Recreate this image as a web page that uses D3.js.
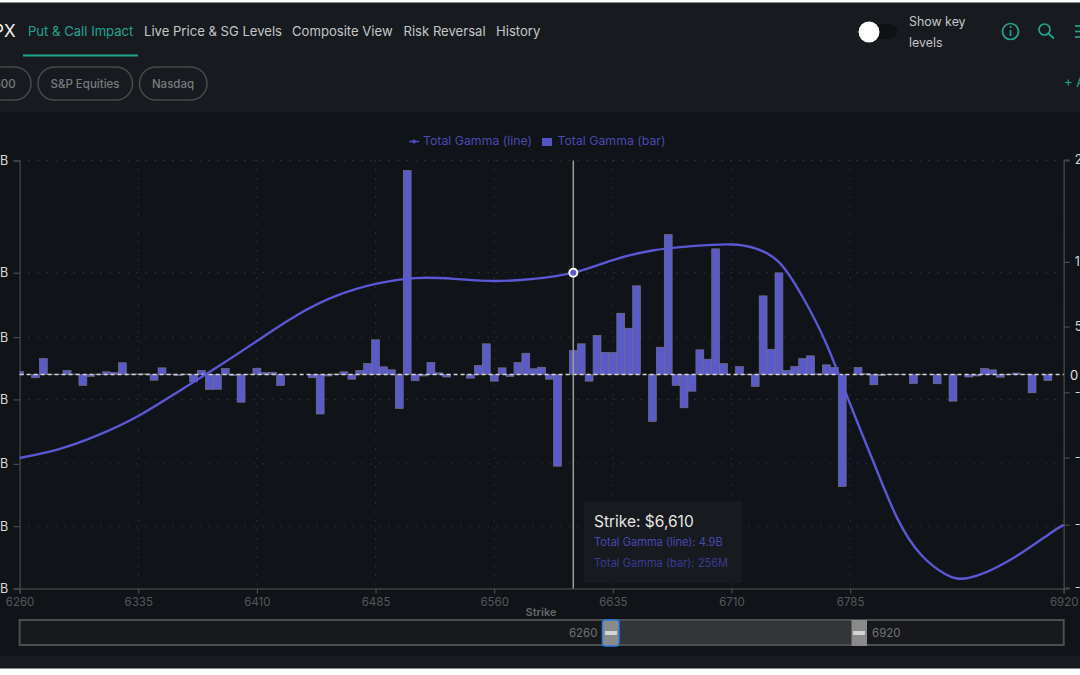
<!DOCTYPE html>
<html>
<head>
<meta charset="utf-8">
<script src="https://cdn.jsdelivr.net/npm/d3@7"></script>
<style>
    html, body { margin: 0; padding: 0; background: #fff; overflow: hidden; }
    svg { display: block; font-family: Inter, "Noto Sans", sans-serif; }
</style>
</head>
<body>
<svg id="chart" width="1080" height="675"></svg>
<script>
// Strike categories, one bar every 5 points
const strikeStart = 6260;
const strikeStep = 5;

// Total Gamma (bar), millions, one per strike from 6260
const barValues = [
    32, 0, -35, 170, 3, 3, 43, 5, -117, -21, 5, 29, 21, 125, 5, 7, 7, -61, 71, 3,
    -11, 5, -78, 43, -160, -157, 64, -11, -295, 3, 67, 21, 24, -117, 3, 0, 0, -35, -421, -16,
    5, 29, -50, 43, 117, 370, 82, 50, -362, 2173, -67, -16, 128, 18, -27, 0, 0, -39, 96, 327,
    -71, 71, -21, 128, 227, 61, 78, -50, -977, 0, 256, 327, -71, 415, 237, 234, 653, 493, 945, 0,
    -501, 291, 1491, -117, -355, -178, 263, 163, 1339, 117, 0, 85, 3, -128, 838, 269, 1083, 43, 85, 170,
    199, 7, 103, 75, -1193, 0, 75, 11, -110, -11, 3, 3, 0, -96, 3, 0, -99, 0, -284, 0,
    -27, -16, 64, 50, -29, 3, 16, 3, -195, 0, -64, 0, 0
];

// Total Gamma (line), billions, read at these strikes
const lineStrikes = [6260, 6285, 6310, 6335, 6360, 6385, 6410, 6435, 6460, 6485, 6510, 6535, 6560, 6585, 6610,
    6635, 6660, 6685, 6710, 6725, 6740, 6755, 6770, 6785, 6800, 6815, 6830, 6845, 6860, 6885, 6910, 6920];
const lineValues = [-4.02, -3.59, -2.91, -2.0, -0.84, 0.36, 1.61, 2.84, 3.78, 4.36, 4.64, 4.6, 4.5, 4.6, 4.9,
    5.51, 5.97, 6.18, 6.26, 6.07, 5.41, 3.73, 1.47, -1.42, -4.26, -6.95, -8.69, -9.6, -9.79, -8.98, -7.72, -7.24];

// Axis ticks
const xTicks = [6260, 6335, 6410, 6485, 6560, 6635, 6710, 6785, 6920];
const leftTicks = [-10.3, -7.3, -4.3, -1.2, 1.8, 4.9, 10.3];
const rightTicks = [-2270, -1600, -884, -190, 511, 1200, 2290];
const tabs = ['Put & Call Impact', 'Live Price & SG Levels', 'Composite View', 'Risk Reversal', 'History'];
const tabX = [28, 144, 292, 403.5, 496];
const hoverStrike = 6610;

const teal = '#1fa58f';
const lineColor = '#5a58d6';
const barColor = '#5a5ac8';

const svg = d3.select('#chart');

// Panels
svg.append('rect').attr('x', 0).attr('y', 2.5).attr('width', 1080).attr('height', 109.5).attr('fill', '#171b1f');
svg.append('rect').attr('x', 0).attr('y', 112).attr('width', 1080).attr('height', 544).attr('fill', '#101317');
svg.append('rect').attr('x', 0).attr('y', 656).attr('width', 1080).attr('height', 12.5).attr('fill', '#171b1f');

// Header tabs
svg.append('text').attr('x', 15.5).attr('y', 37).attr('text-anchor', 'end')
    .style('font-size', '17px').style('fill', '#f0f0f0').text('SPX');

svg.selectAll('.tab').data(tabs).enter().append('text')
    .attr('class', 'tab')
    .attr('x', (d, i) => tabX[i])
    .attr('y', 36)
    .style('font-size', '13.1px')
    .style('fill', (d, i) => i === 0 ? teal : '#c4c6c8')
    .text(d => d);

svg.append('rect').attr('x', 23).attr('y', 54.5).attr('width', 115).attr('height', 2).attr('fill', teal);

// Index pills
const pills = [
    { label: 'S&P 500', x: -50, w: 81, tx: -8 },
    { label: 'S&P Equities', x: 38, w: 94.5, tx: 85 },
    { label: 'Nasdaq', x: 139.5, w: 67.5, tx: 173 }
];
svg.selectAll('.pill').data(pills).enter().append('rect')
    .attr('class', 'pill')
    .attr('x', d => d.x).attr('y', 67).attr('width', d => d.w).attr('height', 33).attr('rx', 16.5)
    .attr('fill', 'none').attr('stroke', '#47494c').attr('stroke-width', 1.5);
svg.selectAll('.pill-label').data(pills).enter().append('text')
    .attr('class', 'pill-label')
    .attr('x', d => d.tx).attr('y', 87.5).attr('text-anchor', 'middle')
    .style('font-size', '11.5px').style('font-weight', 500).style('fill', '#787b7e')
    .text(d => d.label);

svg.append('text').attr('x', 1064).attr('y', 87).style('font-size', '13px').style('fill', teal).text('+ Add');

// Toggle and icons
svg.append('rect').attr('x', 860).attr('y', 24).attr('width', 37).attr('height', 15).attr('rx', 7.5).attr('fill', '#0f1114');
svg.append('circle').attr('cx', 869).attr('cy', 32).attr('r', 10.5).attr('fill', '#fff');
svg.append('text').attr('x', 909).attr('y', 26).style('font-size', '12.4px').style('fill', '#c4c6c8').text('Show key');
svg.append('text').attr('x', 909).attr('y', 47).style('font-size', '12.4px').style('fill', '#c4c6c8').text('levels');

svg.append('circle').attr('cx', 1010.5).attr('cy', 31.5).attr('r', 8).attr('fill', 'none').attr('stroke', teal).attr('stroke-width', 1.7);
svg.append('line').attr('x1', 1010.5).attr('x2', 1010.5).attr('y1', 30).attr('y2', 36).attr('stroke', teal).attr('stroke-width', 1.7);
svg.append('circle').attr('cx', 1010.5).attr('cy', 27).attr('r', 1).attr('fill', teal);
svg.append('circle').attr('cx', 1044.5).attr('cy', 29.5).attr('r', 5.5).attr('fill', 'none').attr('stroke', teal).attr('stroke-width', 1.7);
svg.append('line').attr('x1', 1048.5).attr('x2', 1054).attr('y1', 33.5).attr('y2', 38.5).attr('stroke', teal).attr('stroke-width', 1.7);
[26, 31.5, 37].forEach(y => {
    svg.append('line').attr('x1', 1075).attr('x2', 1080).attr('y1', y).attr('y2', y).attr('stroke', teal).attr('stroke-width', 1.7);
});

// Scales
const plot = { left: 19.6, right: 1063.7, top: 160.5, bottom: 588.5 };
const x = d3.scaleLinear().domain([6260, 6920]).range([plot.left, plot.right]);
const yLine = d3.scaleLinear().domain([-10.3, 10.3]).range([plot.bottom, plot.top]);
const yBar = d3.scaleLinear().domain([-2280, 2280]).range([plot.bottom, plot.top]);
const barWidth = x(strikeStart + strikeStep) - x(strikeStart);

svg.append('clipPath').attr('id', 'plot-clip').append('rect')
    .attr('x', plot.left).attr('y', plot.top - 2)
    .attr('width', plot.right - plot.left).attr('height', plot.bottom - plot.top + 4);

// Grid
const grid = svg.append('g').attr('stroke', '#46494c').attr('stroke-dasharray', '1,8');
grid.selectAll('.grid-h').data(leftTicks).enter().append('line')
    .attr('x1', plot.left).attr('x2', plot.right)
    .attr('y1', d => yLine(d)).attr('y2', d => yLine(d));
grid.selectAll('.grid-v').data(xTicks.slice(1)).enter().append('line')
    .attr('x1', d => x(d)).attr('x2', d => x(d))
    .attr('y1', plot.top).attr('y2', plot.bottom);

// Axes
const styleAxis = (g, color, size) => {
    g.select('.domain').attr('stroke', '#3d4043').attr('stroke-width', 1.5);
    g.selectAll('.tick line').attr('stroke', '#4a4d50').attr('stroke-width', 1.2);
    g.selectAll('.tick text').style('fill', color).style('font-size', size).style('font-family', 'Inter');
};

svg.append('g')
    .attr('transform', `translate(${plot.left}, 0)`)
    .call(d3.axisLeft(yLine).tickValues(leftTicks).tickSize(6).tickPadding(5.5).tickFormat(d => d + 'B'))
    .call(g => styleAxis(g, '#d8d8d8', '12.5px'));

svg.append('g')
    .attr('transform', `translate(${plot.right}, 0)`)
    .call(d3.axisRight(yBar).tickValues(rightTicks).tickSize(6).tickPadding(5)
        .tickFormat(d => Math.abs(d) >= 1000 ? (d / 1000) + 'B' : d + 'M'))
    .call(g => styleAxis(g, '#d8d8d8', '12.5px'));

svg.append('g')
    .attr('transform', `translate(0, ${plot.bottom})`)
    .call(d3.axisBottom(x).tickValues(xTicks).tickSize(5).tickPadding(4).tickFormat(d3.format('d')))
    .call(g => styleAxis(g, '#55585b', '11.5px'));

svg.append('text').attr('x', 541).attr('y', 616).attr('text-anchor', 'middle')
    .style('font-size', '11px').style('font-weight', 600).style('fill', '#66696c').text('Strike');

// Bars
svg.append('g').attr('clip-path', 'url(#plot-clip)')
    .selectAll('rect').data(barValues).enter().append('rect')
    .attr('x', (d, i) => x(strikeStart + i * strikeStep) - barWidth / 2)
    .attr('y', d => Math.min(yBar(d), yBar(0)))
    .attr('width', barWidth)
    .attr('height', d => Math.abs(yBar(d) - yBar(0)))
    .attr('fill', barColor)
    .attr('stroke', '#77777f')
    .attr('stroke-width', 0.6);

// Zero line
svg.append('line')
    .attr('x1', plot.left).attr('x2', plot.right)
    .attr('y1', yBar(0)).attr('y2', yBar(0))
    .attr('stroke', '#d4d4d4').attr('stroke-width', 1.5).attr('stroke-dasharray', '4,3');
svg.append('text').attr('x', 1070).attr('y', yBar(0) + 5)
    .style('font-size', '13px').style('fill', '#e0e0e0').text('0');

// Gamma line
const line = d3.line()
    .x((d, i) => x(lineStrikes[i]))
    .y(d => yLine(d))
    .curve(d3.curveNatural);

svg.append('path').datum(lineValues)
    .attr('d', line)
    .attr('fill', 'none')
    .attr('stroke', lineColor)
    .attr('stroke-width', 2.4);

// Hover crosshair
const hoverValue = lineValues[lineStrikes.indexOf(hoverStrike)];
svg.append('line')
    .attr('x1', x(hoverStrike)).attr('x2', x(hoverStrike))
    .attr('y1', plot.top).attr('y2', plot.bottom)
    .attr('stroke', '#9c9c9c').attr('stroke-width', 1.5);
svg.append('circle')
    .attr('cx', x(hoverStrike)).attr('cy', yLine(hoverValue)).attr('r', 4)
    .attr('fill', lineColor).attr('stroke', '#fff').attr('stroke-width', 2);

// Tooltip
svg.append('rect').attr('x', 584).attr('y', 501).attr('width', 158).attr('height', 82).attr('fill', '#171a1e');
svg.append('text').attr('x', 594).attr('y', 527).style('font-size', '15.5px').style('fill', '#e6e6e6').text('Strike: $6,610');
svg.append('text').attr('x', 594).attr('y', 545.5).style('font-size', '11.1px').style('fill', '#4a48b4').text('Total Gamma (line): 4.9B');
svg.append('text').attr('x', 594).attr('y', 567).style('font-size', '11.1px').style('fill', '#3b3a94').text('Total Gamma (bar): 256M');

// Legend
svg.append('line').attr('x1', 409).attr('x2', 419).attr('y1', 141.5).attr('y2', 141.5).attr('stroke', '#4f4dbd').attr('stroke-width', 1.5);
svg.append('circle').attr('cx', 414).attr('cy', 141.5).attr('r', 2).attr('fill', '#4f4dbd');
svg.append('text').attr('x', 423).attr('y', 145).style('font-size', '12.3px').style('fill', '#4b49b5').text('Total Gamma (line)');
svg.append('rect').attr('x', 542).attr('y', 138).attr('width', 10).attr('height', 8).attr('fill', '#5554c4');
svg.append('text').attr('x', 557.5).attr('y', 145).style('font-size', '12.3px').style('fill', '#4b49b5').text('Total Gamma (bar)');

// Range slider
svg.append('rect').attr('x', plot.left).attr('y', 620).attr('width', plot.right - plot.left).attr('height', 25)
    .attr('fill', '#17191c').attr('stroke', '#4c4e50').attr('stroke-width', 2);
svg.append('rect').attr('x', 610.5).attr('y', 621).attr('width', 249).attr('height', 23).attr('fill', '#333538');
svg.append('rect').attr('x', 602.5).attr('y', 620).attr('width', 16.5).attr('height', 26).attr('rx', 3)
    .attr('fill', '#8a8a8a').attr('stroke', '#2a7de1').attr('stroke-width', 1.5);
svg.append('rect').attr('x', 851.5).attr('y', 620).attr('width', 15.5).attr('height', 26).attr('fill', '#8a8a8a');
svg.append('rect').attr('x', 605).attr('y', 631).attr('width', 12).attr('height', 4).attr('fill', '#d4d4d4');
svg.append('rect').attr('x', 853).attr('y', 631).attr('width', 12).attr('height', 4).attr('fill', '#d4d4d4');
svg.append('text').attr('x', 597.5).attr('y', 636.5).attr('text-anchor', 'end')
    .style('font-size', '11.5px').style('fill', '#6f7275').text('6260');
svg.append('text').attr('x', 872).attr('y', 636.5)
    .style('font-size', '11.5px').style('fill', '#6f7275').text('6920');
</script>
</body>
</html>
